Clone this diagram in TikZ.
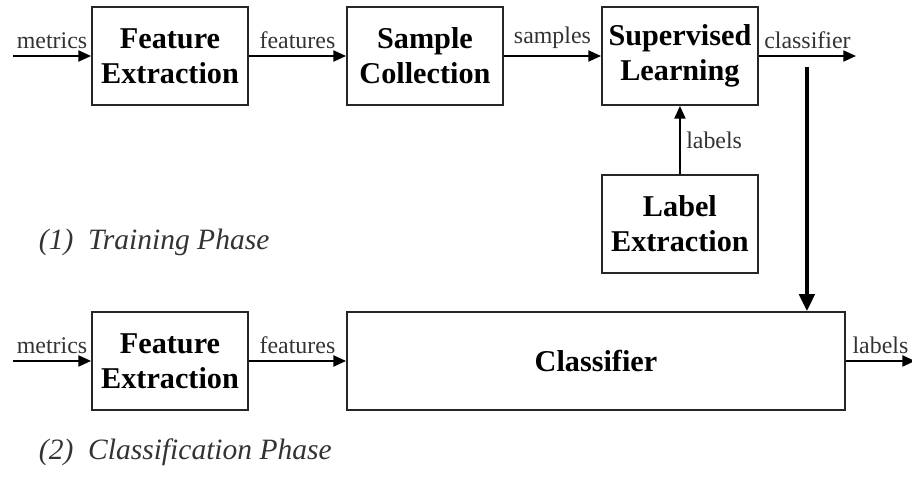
\documentclass[tikz,border=0pt]{standalone}
\usepackage{fontspec}
\setmainfont{Liberation Serif}
\usepackage{tikz}
\usetikzlibrary{arrows.meta,positioning}

\begin{document}
\begin{tikzpicture}
\tikzstyle{block}=[draw=black!85,line width=1.4pt,minimum width=3.9cm,minimum height=2.45cm,align=center,font=\fontsize{21.5}{25}\selectfont\bfseries,inner sep=0pt]
\tikzstyle{arrow}=[line width=1pt,-{Triangle[length=9pt,width=8pt]}]
\tikzstyle{bigarrow}=[line width=2.4pt,-{Triangle[length=12pt,width=11pt]}]
\tikzstyle{lbl}=[font=\fontsize{17}{20}\selectfont,text=black!80,inner sep=2pt]
\tikzstyle{phase}=[font=\fontsize{21}{25}\selectfont\itshape,text=black!80,anchor=west]
\useasboundingbox (0,0) rectangle (22.8,-12.55);
% training phase
\node [block] at (4.25,-1.4) (fe1) {Feature\\Extraction};
\node [block,right=2.425cm of fe1] (sc) {Sample\\Collection};
\node [block,right=2.425cm of sc] (sl) {Supervised\\Learning};
\node [block,below=1.7cm of sl] (le) {Label\\Extraction};
\coordinate [left=1.95cm of fe1.west] (in1);
\coordinate [right=2.425cm of sl.east] (out1);
\draw [arrow] (in1) -- node [lbl,above=3pt] {metrics} (fe1);
\draw [arrow] (fe1) -- node [lbl,above=3pt] {features} (sc);
\draw [arrow] (sc) -- node [lbl,above=3pt] {samples} (sl);
\draw [arrow] (sl) -- node [lbl,above=3pt] {classifier} (out1);
\draw [arrow] (le) -- node [lbl,right=2pt] {labels} (sl);
\node [phase] at (0.85,-6.05) (p1) {(1)\ \ Training Phase};
% classification phase
\node [block,below=5.125cm of fe1] (fe2) {Feature\\Extraction};
\node [block,right=2.425cm of fe2,minimum width=12.45cm] (clf) {Classifier};
\coordinate [left=1.95cm of fe2.west] (in2);
\coordinate [right=1.725cm of clf.east] (out2);
\draw [arrow] (in2) -- node [lbl,above=3pt] {metrics} (fe2);
\draw [arrow] (fe2) -- node [lbl,above=3pt] {features} (clf);
\draw [arrow] (clf) -- node [lbl,above=3pt] {labels} (out2);
\coordinate [right=1.2cm of sl.east,yshift=-0.275cm] (down);
\draw [bigarrow] (down) -- (down |- clf.north);
\node [phase] at (0.85,-11.3) (p2) {(2)\ \ Classification Phase};
\end{tikzpicture}
\end{document}
